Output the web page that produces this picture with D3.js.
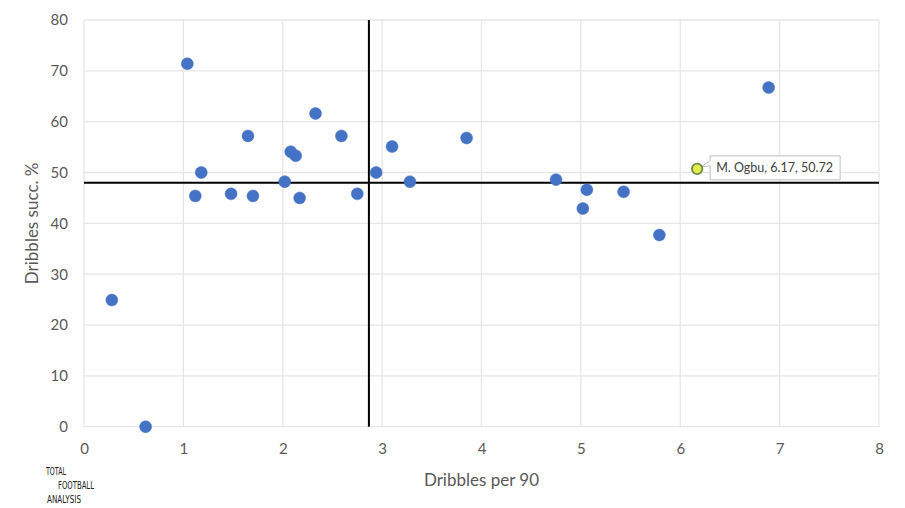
<!DOCTYPE html>
<html><head><meta charset="utf-8">
<script src="https://cdn.jsdelivr.net/npm/d3@7"></script>
<style>body{margin:0;background:#fff}svg{display:block}</style>
</head><body>
<svg id="c" width="905" height="508"></svg>
<script>
const xValues = [1.04,1.12,1.18,1.48,1.65,1.70,2.02,2.08,2.13,2.17,2.33,2.59,2.75,2.94,3.10,3.28,3.85,4.75,5.06,5.02,5.43,5.79,6.89,0.28,0.62,6.17];
const yValues = [71.4,45.4,50.0,45.8,57.2,45.4,48.2,54.1,53.3,45.0,61.6,57.2,45.8,50.0,55.1,48.2,56.8,48.6,46.6,42.9,46.2,37.7,66.7,24.9,0.0,50.72];
const highlightName = "M. Ogbu";
const highlightIndex = 25;
const xTicks = [0,1,2,3,4,5,6,7,8];
const yTicks = [0,10,20,30,40,50,60,70,80];
const xAvg = 2.867;
const yAvg = 48.0;
const xTitle = "Dribbles per 90";
const yTitle = "Dribbles succ. %";
const logoLines = ["TOTAL","FOOTBALL","ANALYSIS"];

const svg = d3.select("#c");
const L=84, R=879, T=20, B=426.7;
const x = d3.scaleLinear().domain([0,8]).range([L,R]);
const y = d3.scaleLinear().domain([0,80]).range([B,T]);
const font = "Lato, 'Open Sans', sans-serif";

// grid
svg.append("g").selectAll("line.v").data(xTicks).join("line")
  .attr("x1",d=>x(d)).attr("x2",d=>x(d)).attr("y1",T).attr("y2",B)
  .attr("stroke","#e6e6e6").attr("stroke-width",1.3);
svg.append("g").selectAll("line.h").data(yTicks).join("line")
  .attr("x1",L).attr("x2",R).attr("y1",d=>y(d)).attr("y2",d=>y(d))
  .attr("stroke","#e6e6e6").attr("stroke-width",1.3);

// axes labels via d3 axes
const xa = svg.append("g").attr("transform",`translate(0,${B})`)
  .call(d3.axisBottom(x).tickValues(xTicks).tickSize(0).tickPadding(17).tickFormat(d3.format("d")));
const ya = svg.append("g").attr("transform",`translate(${L},0)`)
  .call(d3.axisLeft(y).tickValues(yTicks).tickSize(0).tickPadding(16).tickFormat(d3.format("d")));
[xa,ya].forEach(a=>{
  a.select(".domain").remove();
  a.selectAll("text").attr("fill","#595959").style("font-family",font).style("font-size","15px");
});

// average lines
svg.append("line").attr("x1",x(xAvg)).attr("x2",x(xAvg)).attr("y1",T).attr("y2",B)
  .attr("stroke","#000").attr("stroke-width",2);
svg.append("line").attr("x1",L).attr("x2",R).attr("y1",y(yAvg)).attr("y2",y(yAvg))
  .attr("stroke","#000").attr("stroke-width",2);

// points
const pts = xValues.map((v,i)=>({x:v,y:yValues[i],i}));
svg.append("g").selectAll("circle").data(pts.filter(p=>p.i!==highlightIndex)).join("circle")
  .attr("cx",d=>x(d.x)).attr("cy",d=>y(d.y)).attr("r",6)
  .attr("fill","#4472c4").attr("stroke","#4472c4").attr("stroke-width",0.5);

// highlight
const hp = pts[highlightIndex];
const hx = x(hp.x), hy = y(hp.y);
const bx = hx+13, by = hy-13, bw = 130, bh = 24;
svg.append("path")
  .attr("d",`M${bx},${by} L${bx+bw},${by} L${bx+bw},${by+bh} L${bx},${by+bh} L${bx},${by+10} L${hx+4},${hy-2} L${bx},${by+5} Z`)
  .attr("fill","#fff").attr("stroke","#bfbfbf").attr("stroke-width",1);
svg.append("text").attr("x",bx+6).attr("y",by+bh/2+4.5)
  .attr("fill","#404040").style("font-family",font).style("font-size","12.5px")
  .text(`${highlightName}, ${hp.x.toFixed(2)}, ${hp.y.toFixed(2)}`);
svg.append("circle").attr("cx",hx).attr("cy",hy).attr("r",5.2)
  .attr("fill","#e3ee4c").attr("stroke","#6f8a45").attr("stroke-width",1.8);

// titles
svg.append("text").attr("x",(L+R)/2).attr("y",486).attr("text-anchor","middle")
  .attr("fill","#595959").style("font-family",font).style("font-size","17px").text(xTitle);
svg.append("text").attr("transform",`translate(38,${(T+B)/2}) rotate(-90)`).attr("text-anchor","middle")
  .attr("fill","#595959").style("font-family",font).style("font-size","17px").text(yTitle);

// logo
const logoPos = [[46,475],[58,489],[47,503]];
svg.append("g").selectAll("text").data(logoLines).join("text")
  .attr("x",(d,i)=>logoPos[i][0]).attr("y",(d,i)=>logoPos[i][1])
  .attr("fill","#222").style("font-family","'DejaVu Sans Condensed', sans-serif")
  .style("font-size","10px").attr("textLength",(d,i)=>[20,36,34][i]).attr("lengthAdjust","spacingAndGlyphs")
  .text(d=>d);
</script>
</body></html>
